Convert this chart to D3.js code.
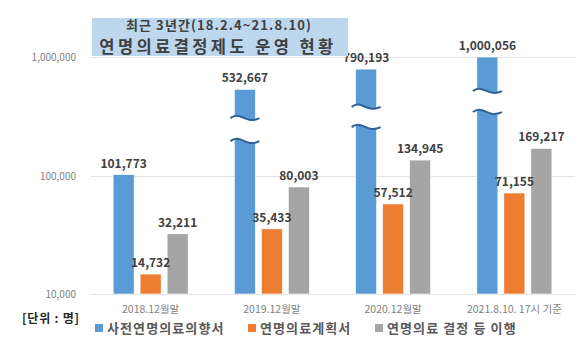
<!DOCTYPE html>
<html><head><meta charset="utf-8">
<script src="https://cdn.jsdelivr.net/npm/d3@7"></script>
<style>body{margin:0;background:#fff}svg{display:block}</style>
</head><body>
<script>
const categories = ["2018.12월말", "2019.12월말", "2020.12월말", "2021.8.10. 17시 기준"];
const seriesNames = ["사전연명의료의향서", "연명의료계획서", "연명의료 결정 등 이행"];
const advanceDirectives = [101773, 532667, 790193, 1000056];
const lifePlans = [14732, 35433, 57512, 71155];
const decisionsCarried = [32211, 80003, 134945, 169217];
// axis-break ranges on the first series (upper value, lower value); null = no break
const breakRanges = [null, [305000, 195000], [379000, 256000], [516000, 343000]];
const yTicks = [10000, 100000, 1000000];
const titleLines = ["최근 3년간(18.2.4~21.8.10)", "연명의료결정제도 운영 현황"];
const unitLabel = "[단위 : 명]";
const colors = ["#5B9BD5", "#ED7D31", "#A5A5A5"];

const W = 585, H = 356;
const font = "'Noto Sans CJK KR','Noto Sans',sans-serif";
const svg = d3.select("body").append("svg").attr("width", W).attr("height", H);

const y = d3.scaleLog().domain([10000, 1000000]).range([294, 57]);
const x = d3.scaleBand().domain(categories).range([90, 575]).padding(0);
const groupW = 75;
const xi = d3.scaleBand().domain(seriesNames)
  .range([x.bandwidth()/2 - groupW/2, x.bandwidth()/2 + groupW/2])
  .paddingInner(6/27).paddingOuter(0);

// gridlines
svg.append("g").selectAll("line").data(yTicks).join("line")
  .attr("x1", 90).attr("x2", 575)
  .attr("y1", d => Math.round(y(d)) + 0.5).attr("y2", d => Math.round(y(d)) + 0.5)
  .attr("stroke", "#E3E3E3").attr("stroke-width", 1);

// y axis labels
const yAxis = d3.axisLeft(y).tickValues(yTicks).tickFormat(d3.format(",")).tickSize(0).tickPadding(0);
const ya = svg.append("g").attr("transform", "translate(76,0)").call(yAxis);
ya.select(".domain").remove();
ya.selectAll("text").attr("font-family", font).attr("font-size", 10).attr("fill", "#7F7F7F").attr("dy", "0.35em");

// x axis labels
const xAxis = d3.axisBottom(x).tickSize(0).tickPadding(0);
const xa = svg.append("g").attr("transform", "translate(0,303)").call(xAxis);
xa.select(".domain").remove();
xa.selectAll("text").attr("font-family", font).attr("font-size", 10.5).attr("fill", "#7F7F7F").attr("dy", "0.35em").attr("y", 6);

const series = [advanceDirectives, lifePlans, decisionsCarried];
const rows = [];
series.forEach((vals, si) => vals.forEach((v, ci) => rows.push({si, ci, v, cat: categories[ci], name: seriesNames[si]})));

const bars = svg.append("g");
bars.selectAll("rect").data(rows).join("rect")
  .attr("x", d => x(d.cat) + xi(d.name))
  .attr("width", xi.bandwidth())
  .attr("y", d => y(d.v))
  .attr("height", d => y(10000) - y(d.v))
  .attr("fill", d => colors[d.si])
  .attr("stroke", "#fff").attr("stroke-width", 0.6);

// breaks
const brk = svg.append("g");
breakRanges.forEach((r, ci) => {
  if (!r) return;
  const x0 = x(categories[ci]) + xi(seriesNames[0]) - 4;
  const x1 = x0 + xi.bandwidth() + 8;
  const yT = y(r[0]), yB = y(r[1]);
  const wave = (yy) => `M${x0},${yy} C${x0 + 10},${yy - 8} ${x1 - 14},${yy + 7} ${x1},${yy}`;
  const waveRev = (yy) => `L${x1},${yy} C${x1 - 14},${yy + 7} ${x0 + 10},${yy - 8} ${x0},${yy}`;
  brk.append("path").attr("d", wave(yT) + " " + waveRev(yB) + " Z")
    .attr("fill", "#fff").attr("stroke", "none");
  [yT, yB].forEach(yy => brk.append("path").attr("d", wave(yy))
    .attr("fill", "none").attr("stroke", "#2F6096").attr("stroke-width", 2));
});

// data labels
svg.append("g").selectAll("text").data(rows).join("text")
  .attr("x", d => x(d.cat) + xi(d.name) + xi.bandwidth()/2)
  .attr("y", d => y(d.v) - 7)
  .attr("text-anchor", "middle")
  .attr("font-family", font).attr("font-size", 12).attr("font-weight", "bold")
  .attr("fill", "#404040")
  .text(d => d3.format(",")(d.v));

// title box
svg.append("rect").attr("x", 92).attr("y", 18).attr("width", 256).attr("height", 38).attr("fill", "#BDD7EE");
svg.append("text").attr("x", 219).attr("y", 29.5).attr("text-anchor", "middle")
  .attr("font-family", font).attr("font-size", 13).attr("font-weight", "bold").attr("fill", "#404040")
  .attr("letter-spacing", 1.1)
  .text(titleLines[0]);
svg.append("text").attr("x", 218).attr("y", 52.5).attr("text-anchor", "middle")
  .attr("font-family", font).attr("font-size", 16.5).attr("font-weight", "bold").attr("fill", "#404040")
  .attr("letter-spacing", 3.4)
  .text(titleLines[1]);

// unit label
svg.append("text").attr("x", 22).attr("y", 323)
  .attr("font-family", font).attr("font-size", 12).attr("font-weight", "bold").attr("fill", "#262626")
  .attr("letter-spacing", 0.8)
  .text(unitLabel);

// legend
const legX = [95, 248, 375];
const lg = svg.append("g").selectAll("g").data(seriesNames).join("g")
  .attr("transform", (d, i) => `translate(${legX[i]},328)`);
lg.append("rect").attr("x", 0).attr("y", -4).attr("width", 8).attr("height", 8).attr("fill", (d, i) => colors[i]);
lg.append("text").attr("x", 12).attr("y", 0).attr("dy", "0.36em")
  .attr("font-family", font).attr("font-size", 13).attr("font-weight", "bold").attr("fill", "#595959")
  .attr("letter-spacing", 1.1)
  .text(d => d);
</script>
</body></html>
